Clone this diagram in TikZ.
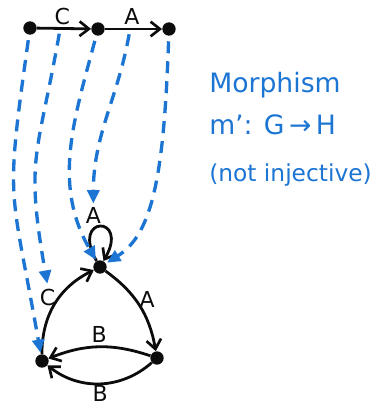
\documentclass[tikz,border=0pt]{standalone}
\usepackage{fontspec}
\setmainfont{DejaVu Sans}
\usepackage{xcolor}
\definecolor{morBlue}{RGB}{28,117,211}
\definecolor{morInk} {RGB}{12, 12, 12}
\usetikzlibrary{
  arrows.meta,
  positioning,
}

\begin{document}
\begin{tikzpicture}[
  x=0.75pt, y=0.75pt,
  dot/.style={circle, fill=morInk, inner sep=0pt, minimum size=10pt},
  gedge/.style={draw=morInk, line width=2.1pt,
    -{Straight Barb[length=7pt, width=11pt, line width=2pt]}},
  lbl/.style={font=\fontsize{16.5}{19}\selectfont, text=morInk, inner sep=2pt},
  map/.style={draw=morBlue, line width=2.5pt, dash pattern=on 9pt off 6pt,
    -{Triangle[length=10pt, width=9pt]}, shorten >=1pt, shorten <=4pt},
  note/.style={font=\fontsize{20}{24}\selectfont, text=morBlue, anchor=west, inner sep=0pt},
]
  \useasboundingbox (0,0) rectangle (381,-408);

  % Graph G (top row)
  \node[dot] (g1) at (30,-28) {};
  \node[dot] (g2) at (98,-29) {};
  \node[dot] (g3) at (169,-29) {};
  \draw[gedge] (g1) -- node[lbl, above, pos=0.47] {C} coordinate[pos=0.43] (mC) (g2);
  \draw[gedge] (g2) -- node[lbl, above, pos=0.47] {A} coordinate[pos=0.44] (mA) (g3);

  % Graph H (triangle)
  \node[dot] (ht) at (100,-267) {};
  \node[dot] (hl) at (42,-361) {};
  \node[dot] (hr) at (157,-358) {};
  \draw[gedge] (ht) to[out=120, in=60, min distance=40pt]
    node[lbl, above, xshift=-5pt, inner sep=1pt] (hA) {A} (ht);
  \draw[gedge] (hl) to[bend left=32] node[lbl, left, pos=0.58] (hC) {C} (ht);
  \draw[gedge] (ht) to[bend left=22] node[lbl, right, pos=0.42] {A} (hr);
  \draw[gedge] (hr) to[bend right=20] node[lbl, above] {B} (hl);
  \draw[gedge] (hr) to[bend left=40] node[lbl, below, inner sep=0.5pt] {B} (hl);

  % Morphism m' (dashed)
  \draw[map] (g1) to[out=-98, in=100, looseness=1.4] (hl);
  \draw[map] (mC) to[out=-100, in=100, looseness=1.3] (hC.north);
  \draw[map] (g2) to[out=-105, in=120] (ht);
  \draw[map] (mA) to[out=-100, in=90] (hA.north);
  \draw[map] (g3) to[out=-92, in=32, out looseness=1.5, in looseness=0.6] (ht);

  % Caption
  \node[note] (cap1) at (209,-85) {Morphism};
  \node[note] (cap2) at (209,-125) {m': G\,→\,H};
  \node[note, font=\fontsize{17.5}{21}\selectfont] (cap3) at (209,-175) {(not injective)};
\end{tikzpicture}
\end{document}
